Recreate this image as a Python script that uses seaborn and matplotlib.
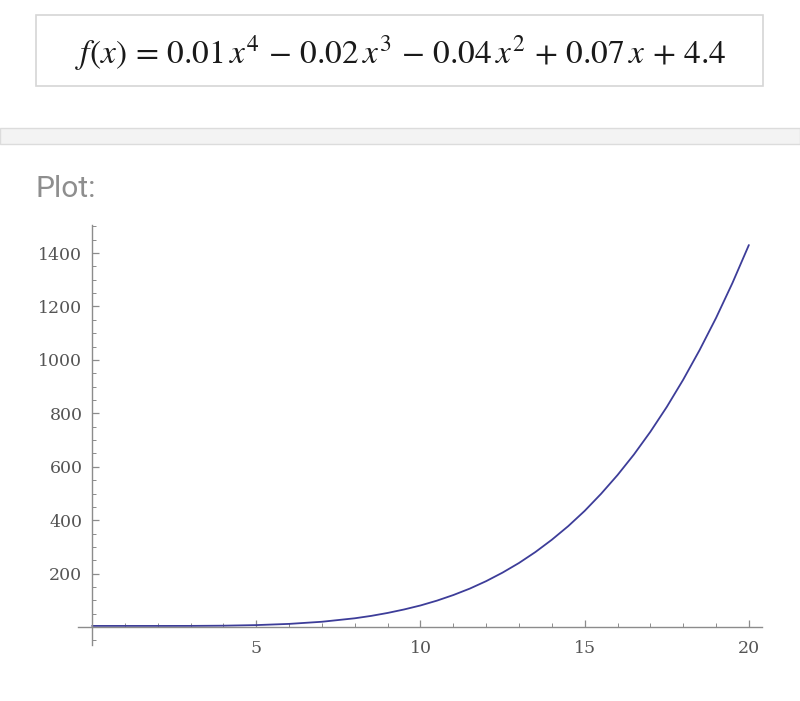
import numpy as np
import pandas as pd
import seaborn as sns
import matplotlib.pyplot as plt
from matplotlib.patches import Rectangle
from matplotlib.ticker import MultipleLocator, FixedLocator

W, H = 800, 701
LINE_COLOR = "#3d3d99"
AXIS_COLOR = "#8c8c8c"
LABEL_COLOR = "#555555"

# values (whole steps, half steps where it bends)
x_vals = [0, 1, 2, 3, 4, 5, 6, 7, 8, 8.5, 9, 9.5, 10, 10.5, 11, 11.5, 12, 12.5,
          13, 13.5, 14, 14.5, 15, 15.5, 16, 16.5, 17, 17.5, 18, 18.5, 19, 19.5, 20]
y_vals = [4.4, 4.4, 4.4, 4.5, 5.3, 7.5, 12, 20, 33, 42, 53, 66, 81, 99, 120, 144,
          172, 204, 240, 281, 327, 378, 435, 499, 569, 646, 731, 824, 926, 1037,
          1157, 1288, 1430]
x_ticks = [5, 10, 15, 20]
y_ticks = [200, 400, 600, 800, 1000, 1200, 1400]
formula = r"$f(x)\,=\,0.01\,x^4\,-\,0.02\,x^3\,-\,0.04\,x^2\,+\,0.07\,x\,+\,4.4$"


def fx(px):
  return px / W


def fy(py):
  return 1 - py / H


def main():
  df = pd.DataFrame({"x": x_vals, "y": y_vals})
  sns.set_style("white")
  plt.rcParams["font.family"] = ["DejaVu Sans"]
  plt.rcParams["mathtext.fontset"] = "stix"

  fig = plt.figure(figsize=(W / 100, H / 100), dpi=100)
  fig.set_facecolor("white")

  # formula box
  fig.add_artist(Rectangle((fx(36), fy(86)), fx(763) - fx(36), fy(15) - fy(86),
                           transform=fig.transFigure, facecolor="white",
                           edgecolor="#d6d6d6", linewidth=1.2))
  fig.text(fx(401), fy(53), formula, fontsize=24, color="#1a1a1a",
           ha="center", va="center")

  # gray separator bar
  fig.add_artist(Rectangle((0, fy(144)), 1, fy(128) - fy(144),
                           transform=fig.transFigure, facecolor="#f3f3f3",
                           edgecolor="#dcdcdc", linewidth=1.0))

  fig.text(fx(36), fy(197), "Plot:", fontsize=21.5, color="#8e8e8e",
           family=["Roboto", "DejaVu Sans"], ha="left", va="baseline")

  # plot area
  ax = fig.add_axes([fx(78), fy(645), fx(762) - fx(78), fy(225) - fy(645)])
  sns.lineplot(data=df, x="x", y="y", ax=ax, color=LINE_COLOR, linewidth=1.3)
  ax.set_xlim(-0.43, 20.4)
  ax.set_ylim(-67, 1505)
  ax.set_xlabel("")
  ax.set_ylabel("")
  ax.set_facecolor("white")

  for side in ["top", "right"]:
    ax.spines[side].set_visible(False)
  ax.spines["left"].set_position(("data", 0))
  ax.spines["bottom"].set_position(("data", 0))
  for side in ["left", "bottom"]:
    ax.spines[side].set_color(AXIS_COLOR)
    ax.spines[side].set_linewidth(1.0)

  ax.xaxis.set_major_locator(FixedLocator(x_ticks))
  ax.yaxis.set_major_locator(FixedLocator(y_ticks))
  ax.xaxis.set_minor_locator(MultipleLocator(1))
  ax.yaxis.set_minor_locator(MultipleLocator(50))
  ax.tick_params(which="both", bottom=True, left=True, top=False, right=False)
  ax.tick_params(which="major", direction="in", length=5, width=0.9,
                 color=AXIS_COLOR, labelcolor=LABEL_COLOR, labelsize=12.5)
  ax.tick_params(which="minor", direction="in", length=3, width=0.7,
                 color=AXIS_COLOR)
  ax.tick_params(axis="x", which="major", pad=9)
  ax.tick_params(axis="y", which="major", pad=7)
  for lab in ax.get_xticklabels() + ax.get_yticklabels():
    lab.set_family(["DejaVu Serif"])

  plt.savefig("out.png", dpi=100)


if __name__ == "__main__":
  main()
